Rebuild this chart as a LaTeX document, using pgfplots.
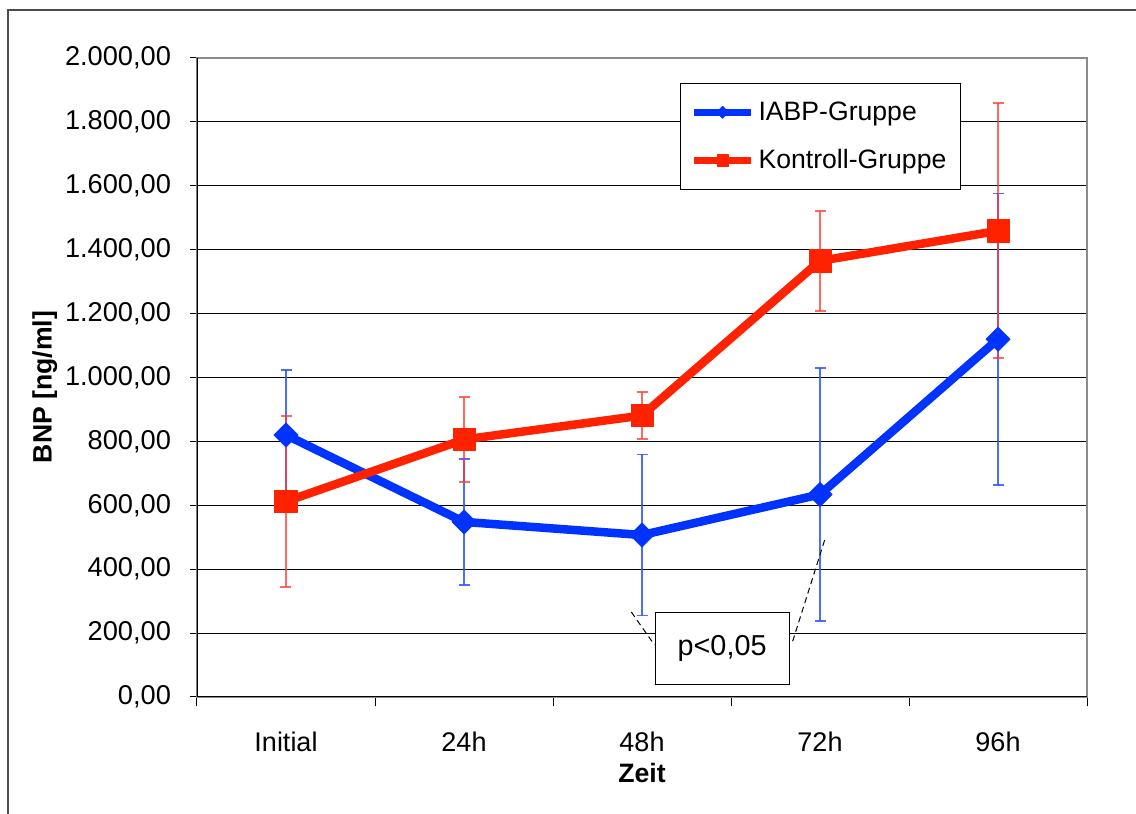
\documentclass[border=0pt]{standalone}
\usepackage{pgfplots}
\pgfplotsset{compat=1.18}
\usepackage{fontspec}
\setmainfont{Liberation Sans}
\definecolor{iabp}{RGB}{0,51,255}
\definecolor{kontr}{RGB}{255,34,0}
\definecolor{iabperr}{RGB}{45,85,255}
\definecolor{kontrerr}{RGB}{255,55,45}
\pgfplotstableread{
x y e
0 820 204
1 548 198
2 507 252
3 634 395
4 1120 456
}\iabpdata
\pgfplotstableread{
x y e
0 612 267
1 806 133
2 881 74
3 1365 157
4 1459 399
}\kontrdata
\begin{document}
\begin{tikzpicture}
\useasboundingbox (0,0) rectangle (568pt,407pt);
\draw[line width=0.8pt, black!70] (4pt,-2pt) -- (4pt,402pt) -- (570pt,402pt);
\begin{axis}[
 at={(98.5pt,58.5pt)}, anchor=south west,
 scale only axis, width=445pt, height=319.5pt,
 xmin=-0.5, xmax=4.5, ymin=0, ymax=2000,
 xtick={0,1,2,3,4}, xticklabels={Initial,24h,48h,72h,96h},
 minor xtick={-0.5,0.5,1.5,2.5,3.5,4.5},
 ytick={0,200,...,2000},
 scaled y ticks=false,
 tick pos=left,
 axis line style={black!45, line width=1pt},
 ymajorgrids, grid style={black, line width=0.5pt},
 tick align=outside, major tick length=3.5pt, minor tick length=4.5pt,
 every major x tick/.append style={draw=none},
 every minor x tick/.append style={black, line width=0.5pt},
 every major y tick/.append style={black, line width=0.5pt},
 xticklabel style={font=\fontsize{13.5}{15}\selectfont, anchor=center, yshift=-19pt},
 yticklabel style={font=\fontsize{13.6}{15}\selectfont, xshift=-6pt,
   /pgf/number format/.cd, fixed, fixed zerofill, precision=2, use comma, 1000 sep={.}, assume math mode=true},
 ylabel={BNP [ng/ml]},
 ylabel style={font=\bfseries\fontsize{13.3}{15}\selectfont, at={(axis description cs:-0.171,0.485)}, anchor=center},
 xlabel={Zeit},
 xlabel style={font=\bfseries\fontsize{13.3}{15}\selectfont, at={(axis description cs:0.5,-0.119)}, anchor=center},
 legend style={at={(0.5427,0.961)}, anchor=north west, draw=black, line width=0.6pt,
   font=\fontsize{13.3}{16}\selectfont, inner xsep=5pt, inner ysep=7pt, row sep=9pt,
   cells={anchor=west}},
 legend image code/.code={\draw[#1, every mark/.append style={scale=0.5}, line width=3.5pt, mark repeat=2, mark phase=2] plot coordinates {(0pt,0pt) (14.25pt,0pt) (28.5pt,0pt)};},
]
\addplot[forget plot, draw=none, mark=none,
  error bars/.cd, y dir=both, y explicit,
  error bar style={iabperr, line width=0.9pt, opacity=0.85},
  error mark options={iabperr, line width=0.9pt, mark size=2.75pt, rotate=90}]
  table[x=x, y=y, y error=e] {\iabpdata};
\addplot[forget plot, draw=none, mark=none,
  error bars/.cd, y dir=both, y explicit,
  error bar style={kontrerr, line width=0.9pt, opacity=0.75},
  error mark options={kontrerr, line width=0.9pt, mark size=2.75pt, rotate=90}]
  table[x=x, y=y, y error=e] {\kontrdata};
\addplot[iabp, line width=4.25pt, line join=round, mark=square*, mark size=4.3pt,
  mark options={rotate=45, solid, line width=0.3pt, fill=iabp, draw=iabp}]
  table[x=x, y=y] {\iabpdata};
\addplot[kontr, line width=4.25pt, line join=round, mark=square*, mark size=5.6pt,
  mark options={solid, line width=0.3pt, fill=kontr, draw=kontr}]
  table[x=x, y=y] {\kontrdata};
\legend{IABP-Gruppe, Kontroll-Gruppe}
\draw[black, line width=0.75pt] (rel axis cs:0,1) -- (rel axis cs:0,0) -- (rel axis cs:1,0);
\draw[densely dashed, black, line width=0.5pt] (axis cs:1.94,266) -- (axis cs:2.07,163);
\draw[densely dashed, black, line width=0.5pt] (axis cs:3.026,491) -- (axis cs:2.84,163);
\node[draw=black, line width=0.6pt, fill=white, minimum width=67pt, minimum height=36pt,
  font=\fontsize{14.4}{16}\selectfont] at (axis cs:2.45,153) {p<0,05};
\end{axis}
\end{tikzpicture}
\end{document}
